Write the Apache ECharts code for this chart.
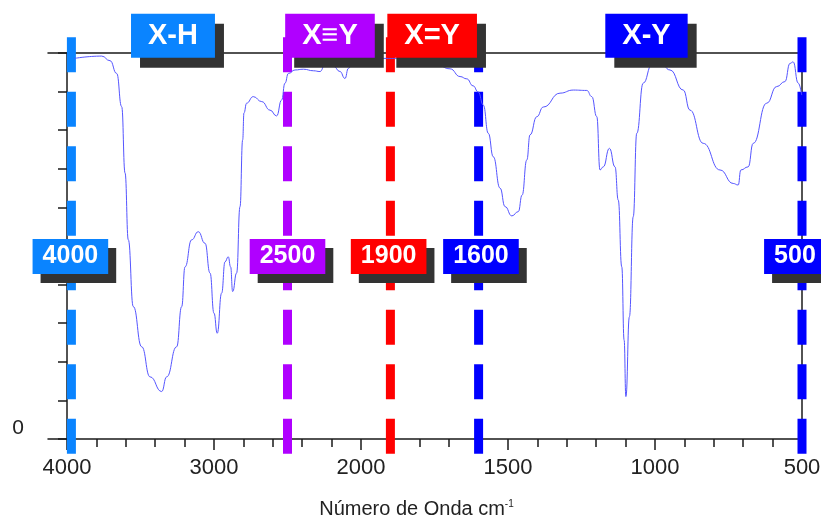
<!DOCTYPE html>
<html><head><meta charset="utf-8">
<script src="https://cdn.jsdelivr.net/npm/echarts@6/dist/echarts.min.js"></script>
<style>html,body{margin:0;padding:0;background:#fff}#c{width:821px;height:519px}</style>
</head><body><div id="c"></div>
<script>
// Spectrum (wavenumber cm-1, transmittance %)
const wavenumbers = [3950,3764,3707,3662,3628,3605,3583,3549,3492,3435,3356,3322,3254,3220,3197,3152,3107,3061,3027,3000,2978,2948,2925,2903,2887,2873,2846,2823,2805,2796,2778,2733,2675,2619,2574,2540,2517,2494,2449,2392,2324,2279,2245,2188,2143,2109,2086,2052,1992,1935,1879,1822,1742,1697,1663,1640,1619,1601,1584,1567,1550,1527,1510,1487,1465,1452,1436,1425,1402,1380,1323,1278,1232,1215,1198,1187,1176,1155,1136,1125,1113,1105,1099,1087,1074,1062,1040,1011,983,949,904,881,836,779,734,717,708,683,666,620,586,558,541,530,513,501];
const transmittance = [98.6,99.2,98.0,94.7,86.1,68.9,51.6,34.3,23.9,16.1,12.3,16.1,23.9,34.3,44.6,51.6,53.7,50.7,43.0,32.6,27.4,37.8,45.9,47.2,44.6,38.2,43.0,60.2,77.5,84.5,87.0,88.7,87.4,85.2,83.7,87.8,92.2,94.7,95.6,95.8,95.4,95.2,96.9,96.6,95.2,93.4,96.0,98.2,98.6,98.6,98.6,97.7,96.9,95.9,93.9,93.3,91.5,89.9,86.5,79.2,73.1,65.0,60.2,57.8,58.9,63.2,72.3,78.8,83.5,86.0,89.6,90.4,90.3,88.7,83.5,69.7,70.5,75.3,70.5,61.9,44.6,25.6,11.0,31.7,57.6,79.2,92.2,96.9,97.7,95.6,90.4,85.2,76.6,69.7,66.2,65.8,69.7,70.5,76.6,87.0,91.3,92.6,97.3,97.7,92.2,89.1];
const xTickLabels = ['4000','3000','2000','1500','1000','500'];
const yTickLabels = ['0'];
// Vertical marker lines
const markerLabels = ['4000','2500','1900','1600','500'];
const markerPositions = [3970,2500,1900,1600,500];
const markerLabelPositions = [3977,2500,1906,1592,524];
const markerColors = ['#0a84ff','#b000ff','#ff0000','#0000ff','#0000ff'];
// Group labels
const groupLabels = ['X-H','X\u2261Y','X=Y','X-Y'];
const groupLabelPositions = [3279,2211,1758,1029];
const groupColors = ['#0a84ff','#b000ff','#ff0000','#0000ff'];
const markerLineTop = 104.1, markerLineBottom = -4.1, markerLabelLevel = 47.3, groupLabelLevel = 104.5;

// split-scale IR axis: 4000-2000 compressed 2x, 2000-500 normal
function toU(w){ return w >= 2000 ? (4000 - w) / 2 : 1000 + (2000 - w); }
function fromU(u){ return u <= 1000 ? 4000 - 2 * u : 3000 - u; }

const FONT = 'Liberation Sans, Arial, sans-serif';
const AX = '#1a1a1a';

const series = [];
markerPositions.forEach((w, i) => {
  series.push({
    type: 'line', xAxisIndex: 0, yAxisIndex: 0, clip: false, silent: true,
    symbol: 'none', z: 2,
    data: [[toU(w), markerLineTop], [toU(w), markerLineBottom]],
    lineStyle: { color: markerColors[i], width: 9, type: [35, 19.5], cap: 'butt' }
  });
});
series.push({
  type: 'line', xAxisIndex: 0, yAxisIndex: 0, symbol: 'none', z: 3, silent: true,
  smooth: 0.5, smoothMonotone: 'x',
  data: wavenumbers.map((w, i) => [toU(w), transmittance[i]]),
  lineStyle: { color: '#5555ff', width: 1 }
});
function labelSeries(names, pos, level, colors, fs, pad, off) {
  return {
    type: 'scatter', xAxisIndex: 0, yAxisIndex: 0, clip: false, silent: true, z: 10,
    symbolSize: 1, itemStyle: { color: 'rgba(0,0,0,0)', opacity: 1 },
    data: names.map((n, i) => ({
      name: n, value: [toU(pos[i]), level],
      label: { backgroundColor: colors[i] }
    })),
    label: {
      show: true, position: 'inside', formatter: '{b}', color: '#fff', opacity: 1,
      fontFamily: FONT, fontWeight: 'bold', fontSize: fs, padding: pad,
      shadowColor: '#333333', shadowBlur: 0, shadowOffsetX: off[0], shadowOffsetY: off[1]
    }
  };
}
series.push(labelSeries(groupLabels, groupLabelPositions, groupLabelLevel, groupColors, 29, [8, 17, 7, 17], [9, 10]));
series.push(labelSeries(markerLabels, markerLabelPositions, markerLabelLevel, markerColors, 25, [5, 10, 5, 10], [8, 9]));

const option = {
  animation: false,
  backgroundColor: '#fff',
  grid: [
    { left: 67, right: 19, top: 53, bottom: 80, outerBoundsMode: 'none', containLabel: false },
    { left: 48, right: 18, top: 53, bottom: 80, outerBoundsMode: 'none', containLabel: false }
  ],
  xAxis: [
    {
      type: 'value', gridIndex: 0, min: 0, max: 2500, interval: 500,
      axisLine: { show: false },
      axisTick: { show: true, length: 11, inside: false, lineStyle: { color: AX, width: 1.5 } },
      minorTick: { show: true, splitNumber: 5, length: 8, lineStyle: { color: AX, width: 1.5 } },
      splitLine: { show: false },
      axisLabel: {
        margin: 18, color: '#222', fontFamily: FONT, fontSize: 22,
        formatter: v => { const s = String(Math.round(fromU(v))); return xTickLabels.indexOf(s) >= 0 ? s : ''; }
      },
      name: '{a|Número de Onda cm}{b|-1}', nameLocation: 'middle', nameGap: 60,
      nameTextStyle: {
        padding: [0, 36, 0, 0],
        rich: {
          a: { fontSize: 20, color: '#222', fontFamily: FONT },
          b: { fontSize: 10, color: '#222', fontFamily: FONT, verticalAlign: 'top' }
        }
      }
    },
    { type: 'value', gridIndex: 1, min: 0, max: 1, position: 'bottom',
      axisLine: { show: true, lineStyle: { color: AX, width: 1.5 } },
      axisTick: { show: false }, axisLabel: { show: false }, splitLine: { show: false } },
    { type: 'value', gridIndex: 1, min: 0, max: 1, position: 'top',
      axisLine: { show: true, lineStyle: { color: AX, width: 1.5 } },
      axisTick: { show: false }, axisLabel: { show: false }, splitLine: { show: false } }
  ],
  yAxis: [
    {
      type: 'value', gridIndex: 0, min: 0, max: 100, interval: 10, position: 'left',
      axisLine: { show: true, lineStyle: { color: AX, width: 1.5 } },
      axisTick: { show: true, length: 9, inside: false, lineStyle: { color: AX, width: 1.5 } },
      splitLine: { show: false },
      axisLabel: {
        margin: 43, color: '#222', fontFamily: FONT, fontSize: 21, verticalAlign: 'bottom',
        formatter: v => { const s = String(v); return yTickLabels.indexOf(s) >= 0 ? s : ''; }
      },
      name: 'Transmitancia %', nameLocation: 'middle', nameGap: 34,
      nameTextStyle: { fontSize: 23, color: '#222', fontFamily: FONT }
    },
    { type: 'value', gridIndex: 0, min: 0, max: 100, position: 'right',
      axisLine: { show: true, lineStyle: { color: AX, width: 1.5 } },
      axisTick: { show: false }, axisLabel: { show: false }, splitLine: { show: false } },
    { type: 'value', gridIndex: 1, min: 0, max: 1, show: false }
  ],
  series: series
};
const chart = echarts.init(document.getElementById('c'), null, { renderer: 'canvas' });
chart.setOption(option);
</script></body></html>
